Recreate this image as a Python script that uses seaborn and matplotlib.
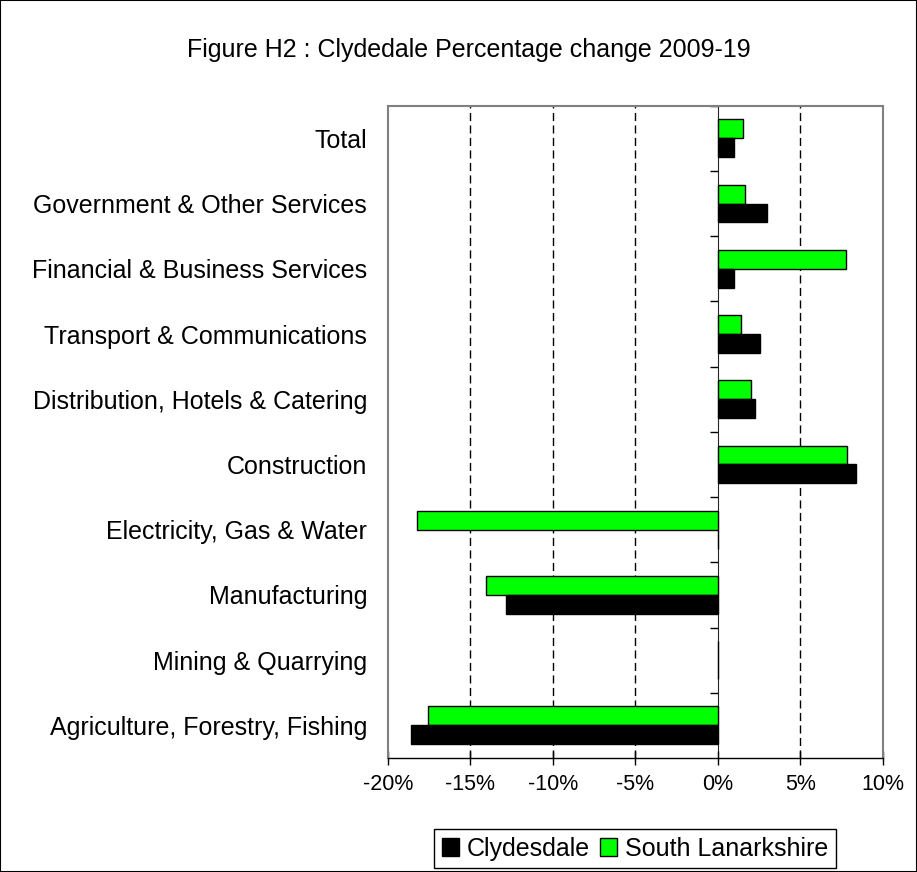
import pandas as pd
import matplotlib
matplotlib.use('Agg')
import matplotlib.pyplot as plt
import seaborn as sns
from matplotlib.patches import Rectangle
from matplotlib.ticker import FuncFormatter

categories = ['Total', 'Government & Other Services', 'Financial & Business Services',
              'Transport & Communications', 'Distribution, Hotels & Catering', 'Construction',
              'Electricity, Gas & Water', 'Manufacturing', 'Mining & Quarrying',
              'Agriculture, Forestry, Fishing']
clydesdale = [1.0, 3.0, 1.0, 2.55, 2.25, 8.4, 0.0, -12.85, 0.0, -18.6]
south_lanarkshire = [1.5, 1.65, 7.75, 1.4, 2.0, 7.85, -18.25, -14.05, 0.0, -17.6]
x_ticks = [-20, -15, -10, -5, 0, 5, 10]

df = pd.DataFrame({
    'category': categories * 2,
    'value': clydesdale + south_lanarkshire,
    'area': ['Clydesdale'] * len(categories) + ['South Lanarkshire'] * len(categories),
})

sns.set_style('white')
plt.rcParams['font.family'] = ['Liberation Sans', 'DejaVu Sans']
plt.rcParams['text.color'] = 'black'
plt.rcParams['xtick.color'] = 'black'
plt.rcParams['ytick.color'] = 'black'
fs = 18

fig = plt.figure(figsize=(9.17, 8.72), dpi=100)
ax = fig.add_axes([388 / 917, 1 - 758 / 872, (882.7 - 388) / 917, (758 - 105.7) / 872])

sns.barplot(data=df, x='value', y='category', hue='area',
            hue_order=['South Lanarkshire', 'Clydesdale'], order=categories,
            palette={'South Lanarkshire': '#00ff00', 'Clydesdale': 'black'},
            width=0.58, edgecolor='black', linewidth=1, saturation=1, ax=ax)

ax.set_xlim(-20, 10)
ax.set_ylim(len(categories) - 0.5, -0.5)
ax.set_xticks(x_ticks)
ax.xaxis.set_major_formatter(FuncFormatter(lambda v, p: f'{v:.0f}%'))
ax.set_xlabel('')
ax.set_ylabel('')
ax.tick_params(axis='x', direction='inout', length=9.5, width=1, color='black',
               labelsize=15.5, pad=7, bottom=True)
ax.tick_params(axis='y', length=0, labelsize=fs, pad=15)

# dashed gridlines, skipping the ones on the border and the zero line
ax.xaxis.grid(True, linestyle=(0, (5.8, 3.2)), color='black', linewidth=1)
ax.set_axisbelow(True)
for tick, gl in zip(x_ticks, ax.get_xgridlines()):
    if tick in (-20, 0, 10):
        gl.set_visible(False)

for side in ['left', 'top', 'right']:
    ax.spines[side].set_color('#808080')
    ax.spines[side].set_linewidth(1.5)
ax.spines['bottom'].set_color('black')
ax.spines['bottom'].set_linewidth(1)

# value axis at 0 with ticks between categories
zero_pos = (0 - x_ticks[0]) / (x_ticks[-1] - x_ticks[0])
sec = ax.secondary_yaxis(zero_pos)
sec.set_yticks([i + 0.5 for i in range(len(categories) - 1)] + [-0.5])
sec.tick_params(axis='y', direction='in', length=6, width=1, color='black')
sec.spines['left'].set_color('black')
sec.spines['left'].set_linewidth(1)
sec.set_yticklabels([])

fig.text(469 / 917, 1 - 57 / 872, 'Figure H2 : Clydedale Percentage change 2009-19',
         ha='center', va='baseline', fontsize=fs)

handles, labels = ax.get_legend_handles_labels()
ax.get_legend().remove()
leg = fig.legend(handles[::-1], labels[::-1], loc='upper center',
                 bbox_to_anchor=(635 / 917, 1 - 829 / 872), ncol=2, fontsize=fs,
                 frameon=True, fancybox=False, edgecolor='black', framealpha=1,
                 handlelength=0.7, handleheight=0.7, handletextpad=0.3,
                 columnspacing=0.4, borderpad=0.3, borderaxespad=0)
leg.get_frame().set_linewidth(1)

fig.patches.append(Rectangle((0, 0), 1, 1, transform=fig.transFigure, fill=False,
                             edgecolor='black', linewidth=1.5))

fig.savefig('out.png', dpi=100)
